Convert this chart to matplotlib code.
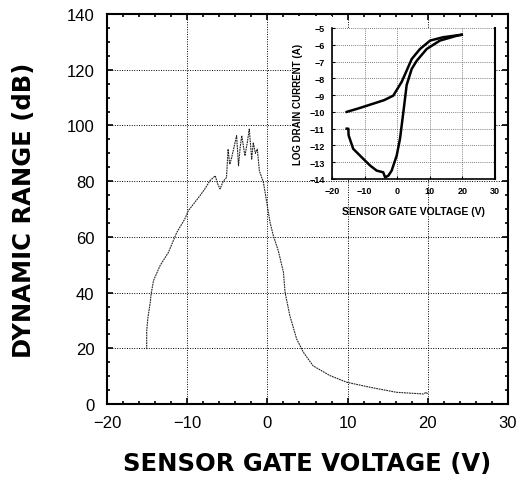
import numpy as np
import matplotlib
matplotlib.use('Agg')
import matplotlib.pyplot as plt
from matplotlib.ticker import MultipleLocator
from matplotlib.patches import Rectangle

# main curve: dynamic range vs sensor gate voltage
gate_v = [-15.05, -15.05, -14.9, -14.6, -14.5, -14.2, -13.4, -12.35, -11.3, -10.3,
          -9.86, -8.4, -7.8, -7.16, -6.5, -6.2, -5.9, -5.5, -5.1, -4.9,
          -4.7, -4.45, -4.1, -3.84, -3.6, -3.4, -3.2, -2.8, -2.5, -2.26,
          -1.96, -1.76, -1.5, -1.26, -1.0, -0.5, -0.08, 0.33, 0.74, 1.36,
          2.0, 2.2, 2.8, 3.65, 4.5, 5.7, 7.8, 9.9, 12.8, 16.1,
          19.45, 19.8, 20.0]
dyn_range = [19.7, 26.3, 31.0, 36.6, 39.5, 44.3, 49.6, 54.4, 61.6, 66.4,
             69.4, 74.8, 77.2, 80.2, 81.9, 79.0, 77.2, 80.0, 81.3, 91.5,
             86.0, 88.5, 93.0, 96.3, 85.5, 92.0, 96.3, 89.1, 94.0, 98.7,
             87.9, 93.9, 90.0, 91.5, 83.7, 79.6, 72.4, 65.2, 60.4, 55.0,
             47.3, 40.1, 31.7, 23.3, 18.5, 13.7, 10.2, 7.8, 6.0, 4.2,
             3.6, 4.2, 3.5]

# inset: log drain current, two sweeps
upper_v = [-15.5, -12.0, -8.0, -4.0, -1.2, 1.4, 2.9, 4.45, 7.0, 10.1, 14.1, 19.8]
upper_i = [-10.0, -9.8, -9.55, -9.3, -9.03, -8.2, -7.54, -6.85, -6.25, -5.75, -5.55, -5.4]
lower_v = [-15.5, -15.0, -14.9, -13.5, -10.4, -8.3, -6.3, -4.3, -3.7, -2.7,
           -1.7, -0.15, 0.86, 1.9, 2.9, 4.45, 6.0, 9.05, 13.1, 18.3, 19.8]
lower_i = [-11.0, -11.0, -11.4, -12.2, -12.8, -13.2, -13.5, -13.6, -13.9, -13.8,
           -13.5, -12.6, -11.6, -10.0, -8.4, -7.44, -6.95, -6.25, -5.75, -5.46, -5.4]

x_ticks = [-20, -10, 0, 10, 20, 30]
y_ticks = [0, 20, 40, 60, 80, 100, 120, 140]
inset_y_ticks = [-5, -6, -7, -8, -9, -10, -11, -12, -13, -14]

plt.rcParams['font.family'] = ['Liberation Sans', 'DejaVu Sans']

fig = plt.figure(figsize=(5.17, 4.81), dpi=100)
ax = fig.add_axes([107/517, 1-405/481, 401/517, 390/481])

ax.plot(gate_v, dyn_range, color='#222222', lw=0.8, linestyle=(0, (1.6, 0.7)))
ax.set_xlim(-20, 30)
ax.set_ylim(0, 140)
ax.set_xticks(x_ticks)
ax.set_yticks(y_ticks)
ax.xaxis.set_minor_locator(MultipleLocator(2))
ax.yaxis.set_minor_locator(MultipleLocator(5))
ax.tick_params(direction='in', which='both', top=True, right=True, labelsize=12, width=1.2)
ax.tick_params(axis='x', pad=8)
ax.tick_params(axis='y', pad=9)
ax.tick_params(which='major', length=4)
ax.tick_params(which='minor', length=2)
ax.grid(True, which='major', color='black', linestyle=(0, (1, 1.5)), lw=0.7)
for s in ax.spines.values():
    s.set_linewidth(1.5)
ax.set_xlabel('SENSOR GATE VOLTAGE (V)', fontsize=17.5, fontweight='bold',
              family=['DejaVu Sans'], labelpad=15)
ax.set_ylabel('DYNAMIC RANGE (dB)', fontsize=17.5, fontweight='bold',
              family=['DejaVu Sans'], labelpad=22)

# white column behind the inset tick labels
ax.add_patch(Rectangle((293/517, 1-180/481), (332-293)/517, (180-17)/481,
                       transform=fig.transFigure, facecolor='white',
                       edgecolor='none', zorder=3))

ins = fig.add_axes([332/517, 1-180/481, 163/517, 151/481])
ins.set_facecolor('white')
ins.plot(upper_v, upper_i, color='black', lw=1.8)
ins.plot(lower_v, lower_i, color='black', lw=1.8)
ins.set_xlim(-20, 30)
ins.set_ylim(-14, -5)
ins.set_xticks(x_ticks)
ins.set_yticks(inset_y_ticks)
ins.tick_params(direction='in', length=2, labelsize=6.5, pad=5)
ins.grid(True, color='#555555', linestyle=(0, (1, 1.5)), lw=0.6)
for lbl in ins.get_xticklabels() + ins.get_yticklabels():
    lbl.set_fontweight('bold')
ins.spines['left'].set_linewidth(1.2)
ins.spines['bottom'].set_linewidth(1.2)
ins.spines['right'].set_linewidth(1.5)
ins.spines['top'].set_visible(False)
ins.set_xlabel('SENSOR GATE VOLTAGE (V)', fontsize=7.5, fontweight='bold', labelpad=8)
ins.set_ylabel('LOG DRAIN CURRENT (A)', fontsize=7, fontweight='bold', labelpad=5)

fig.savefig('out.png', dpi=100)
